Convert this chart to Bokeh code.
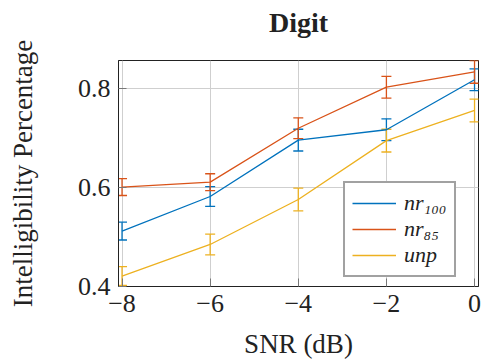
from bokeh.plotting import figure
from bokeh.models import (ColumnDataSource, Whisker, TeeHead, Legend, LegendItem,
                          FixedTicker, Range1d)
from bokeh.embed import file_html
from bokeh.resources import INLINE

# Intelligibility vs. SNR for the digit task
snr = [-8, -6, -4, -2, 0]
nr100 = [0.512, 0.582, 0.696, 0.717, 0.818]
nr100_err = [0.018, 0.020, 0.022, 0.022, 0.022]
nr85 = [0.601, 0.611, 0.720, 0.803, 0.834]
nr85_err = [0.017, 0.017, 0.021, 0.022, 0.023]
unp = [0.421, 0.485, 0.576, 0.695, 0.756]
unp_err = [0.019, 0.021, 0.023, 0.023, 0.023]

series_names = ["nr\u2081\u2080\u2080", "nr\u2088\u2085", "unp"]
series_colors = ["#0072BD", "#D95319", "#EDB120"]

x_ticks = [-8, -6, -4, -2, 0]
y_ticks = [0.4, 0.6, 0.8]

SERIF = "Liberation Serif"

p = figure(width=481, height=362, output_backend="svg", toolbar_location=None,
           x_range=Range1d(-8.08, 0.09), y_range=Range1d(0.4, 0.857),
           min_border_left=118, min_border_right=3, min_border_top=60,
           min_border_bottom=76, title="Digit")

p.title.align = "center"
p.title.text_font = SERIF
p.title.text_font_size = "28px"
p.title.text_font_style = "bold"
p.title.text_color = "#222222"
p.title.standoff = 8
# extra room under the title text keeps it near the top edge
p.title.padding = (0, 0, 0, 19)

p.outline_line_color = "#222222"
p.outline_line_width = 1

p.grid.grid_line_color = "#cfcfcf"
p.grid.grid_line_width = 1
p.xgrid.ticker = FixedTicker(ticks=x_ticks)
p.ygrid.ticker = FixedTicker(ticks=y_ticks)

for ax in (p.xaxis[0], p.yaxis[0]):
    ax.major_label_text_font = SERIF
    ax.major_label_text_font_size = "26px"
    ax.major_label_text_color = "#222222"
    ax.axis_label_text_font = SERIF
    ax.axis_label_text_font_size = "27px"
    ax.axis_label_text_font_style = "normal"
    ax.axis_label_text_color = "#222222"
    ax.major_tick_in = 8
    ax.major_tick_out = 0
    ax.major_tick_line_color = "#777777"
    ax.minor_tick_line_color = None
    ax.axis_line_color = "#222222"
    ax.major_label_standoff = 8

p.xaxis[0].ticker = FixedTicker(ticks=x_ticks)
p.xaxis[0].major_label_overrides = {t: (("\u2212" + str(-t)) if t < 0 else str(t)) for t in x_ticks}
p.xaxis[0].axis_label = "SNR (dB)"
p.xaxis[0].axis_label_standoff = 14

p.yaxis[0].ticker = FixedTicker(ticks=y_ticks)
p.yaxis[0].axis_label = "Intelligibility Percentage"
p.yaxis[0].axis_label_standoff = 37

items = []
for name, vals, errs, color in zip(series_names, [nr100, nr85, unp],
                                   [nr100_err, nr85_err, unp_err], series_colors):
    src = ColumnDataSource(dict(
        x=snr, y=vals,
        lo=[v - e for v, e in zip(vals, errs)],
        hi=[v + e for v, e in zip(vals, errs)]))
    r = p.line("x", "y", source=src, line_color=color, line_width=1.3)
    w = Whisker(base="x", lower="lo", upper="hi", source=src,
                line_color=color, line_width=1.3,
                upper_head=TeeHead(size=10, line_color=color, line_width=1.3),
                lower_head=TeeHead(size=10, line_color=color, line_width=1.3))
    p.add_layout(w)
    items.append(LegendItem(label=name, renderers=[r]))

legend = Legend(items=items, location=(225, 9),
                label_text_font=SERIF, label_text_font_size="22px",
                label_text_font_style="italic", label_text_color="#222222",
                label_text_line_height=0.85,
                glyph_width=44, glyph_height=18, label_height=18,
                label_standoff=8, spacing=0, padding=7, margin=0,
                border_line_color="#444444", border_line_width=2,
                background_fill_color="white", background_fill_alpha=1)
p.add_layout(legend, "center")

open("out.html", "w").write(file_html(p, INLINE))
